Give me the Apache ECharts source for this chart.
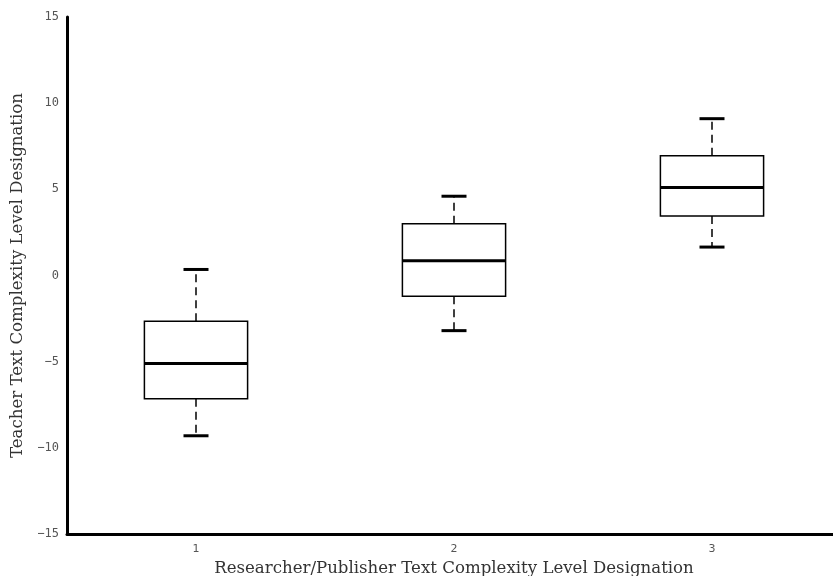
<!DOCTYPE html>
<html>
<head>
<meta charset="utf-8">
<script src="https://cdn.jsdelivr.net/npm/echarts@6/dist/echarts.min.js"></script>
<style>
  html, body { margin: 0; padding: 0; background: #fff; }
  #chart { width: 833px; height: 576px; }
</style>
</head>
<body>
<div id="chart"></div>
<script>
// categories and five-number summaries
var categories = ['1', '2', '3'];
var lowVals = [-9.3, -3.2, 1.65];
var q1Vals = [-7.15, -1.2, 3.45];
var medianVals = [-5.1, 0.85, 5.1];
var q3Vals = [-2.65, 3.0, 6.95];
var highVals = [0.35, 4.6, 9.1];

var boxData = categories.map(function (c, i) {
    return [i, lowVals[i], q1Vals[i], medianVals[i], q3Vals[i], highVals[i]];
});

function renderBox(params, api) {
    var idx = api.value(0);
    var band = api.size([1, 0])[0];
    var halfW = band * 0.2;
    var capW = 12.5;
    var pLow = api.coord([idx, api.value(1)]);
    var pQ1 = api.coord([idx, api.value(2)]);
    var pMed = api.coord([idx, api.value(3)]);
    var pQ3 = api.coord([idx, api.value(4)]);
    var pHigh = api.coord([idx, api.value(5)]);
    var x = pMed[0];
    var dash = {stroke: '#000', lineWidth: 1.5, lineDash: [8, 5]};
    var thick = {stroke: '#000', lineWidth: 3};
    return {
        type: 'group',
        children: [
            // 须线（虚线）
            {type: 'line', shape: {x1: x, y1: pQ3[1], x2: x, y2: pHigh[1]}, style: dash},
            {type: 'line', shape: {x1: x, y1: pQ1[1], x2: x, y2: pLow[1]}, style: dash},
            // 端点横线
            {type: 'line', shape: {x1: x - capW, y1: pHigh[1], x2: x + capW, y2: pHigh[1]}, style: thick},
            {type: 'line', shape: {x1: x - capW, y1: pLow[1], x2: x + capW, y2: pLow[1]}, style: thick},
            // 箱体
            {
                type: 'rect',
                shape: {x: x - halfW, y: pQ3[1], width: halfW * 2, height: pQ1[1] - pQ3[1]},
                style: {fill: '#fff', stroke: '#000', lineWidth: 1.5}
            },
            // 中位数
            {type: 'line', shape: {x1: x - halfW, y1: pMed[1], x2: x + halfW, y2: pMed[1]}, style: thick}
        ]
    };
}

var mychart = echarts.init(document.getElementById('chart'));
var option = {
    animation: false,
    grid: {
        left: 67,
        right: -8,
        top: 17,
        bottom: 42,
        outerBoundsMode: 'none'
    },
    xAxis: {
        type: 'category',
        data: categories,
        name: 'Researcher/Publisher Text Complexity Level Designation',
        nameLocation: 'middle',
        nameGap: 23,
        nameTextStyle: {fontFamily: 'DejaVu Serif', fontSize: 16.6, color: '#333'},
        axisLine: {onZero: false, lineStyle: {color: '#000', width: 3}},
        axisTick: {show: false},
        axisLabel: {fontFamily: 'DejaVu Sans', fontSize: 11, color: '#555', margin: 10},
        splitLine: {show: false}
    },
    yAxis: {
        type: 'value',
        min: -15,
        max: 15,
        interval: 5,
        name: 'Teacher Text Complexity Level Designation',
        nameLocation: 'middle',
        nameGap: 39,
        nameTextStyle: {fontFamily: 'DejaVu Serif', fontSize: 16.6, color: '#333'},
        axisLine: {show: true, lineStyle: {color: '#000', width: 3}},
        axisTick: {show: false},
        axisLabel: {
            fontFamily: 'DejaVu Sans Mono',
            fontSize: 12,
            color: '#555',
            margin: 8,
            formatter: function (v) {
                return v < 0 ? '\u2212' + Math.abs(v) : String(v);
            }
        },
        splitLine: {show: false}
    },
    series: [{
        type: 'custom',
        renderItem: renderBox,
        encode: {x: 0, y: [1, 2, 3, 4, 5]},
        data: boxData
    }]
};
mychart.setOption(option);
</script>
</body>
</html>
